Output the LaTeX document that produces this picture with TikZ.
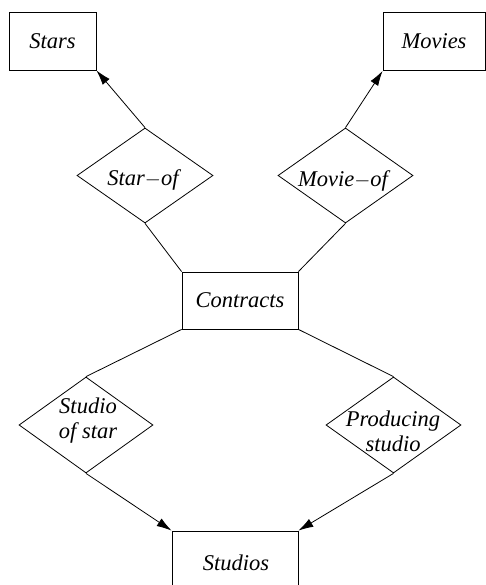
\documentclass[tikz,border=0pt]{standalone}
\usepackage{fontspec}
\setmainfont{Liberation Serif}
\usetikzlibrary{shapes.geometric,arrows.meta}
\begin{document}
\begin{tikzpicture}[x=1pt,y=-1pt,
  every node/.style={font=\fontsize{22.5}{25}\selectfont\itshape},
  entity/.style={draw,rectangle,inner sep=0pt,line width=0.8pt},
  rel/.style={draw,diamond,inner sep=0pt,line width=0.8pt},
  lbl/.style={align=center,inner sep=0pt},
  link/.style={line width=0.8pt},
  arr/.style={line width=0.8pt,-{Latex[length=15pt,width=9pt]}}]
\useasboundingbox (0,0) rectangle (486,585);
\clip (0,0) rectangle (486,585);
% entity sets
\node[entity,minimum width=87pt,minimum height=58pt] (stars) at (52.5,41) {Stars};
\node[entity,minimum width=102pt,minimum height=58pt] (movies) at (434,41.5) {Movies};
\node[entity,minimum width=116pt,minimum height=57pt] (contracts) at (240,300.5) {Contracts};
\node[entity,minimum width=126pt,minimum height=68pt] (studios) at (235,565) {};
\node[lbl] (studiostxt) at (236,563) {Studios};
% relationships
\node[rel,minimum width=136pt,minimum height=95pt] (starof) at (145,175.5) {};
\node[lbl] (staroftxt) at (143,180) {Star$-$of};
\node[rel,minimum width=135pt,minimum height=95pt] (movieof) at (345.5,175.5) {};
\node[lbl] (movieoftxt) at (343,181) {Movie$-$of};
\node[rel,minimum width=134pt,minimum height=96pt] (sstar) at (86,425) {};
\node[lbl] (sstartxt) at (88,421) {Studio\\of star};
\node[rel,minimum width=135pt,minimum height=96pt] (pstudio) at (393.5,425) {};
\node[lbl] (pstudiotxt) at (393,431) {Producing\\studio};
% connectors
\draw[arr] (starof.north) -- (stars.south east);
\draw[link] (starof.south) -- (contracts.north west);
\draw[arr] (movieof.north) -- (movies.south west);
\draw[link] (movieof.south) -- (contracts.north east);
\draw[link] (contracts.south west) -- (sstar.north);
\draw[link] (contracts.south east) -- (pstudio.north);
\draw[arr] (sstar.south) -- (studios.north west);
\draw[arr] (pstudio.south) -- (studios.north east);
\end{tikzpicture}
\end{document}
